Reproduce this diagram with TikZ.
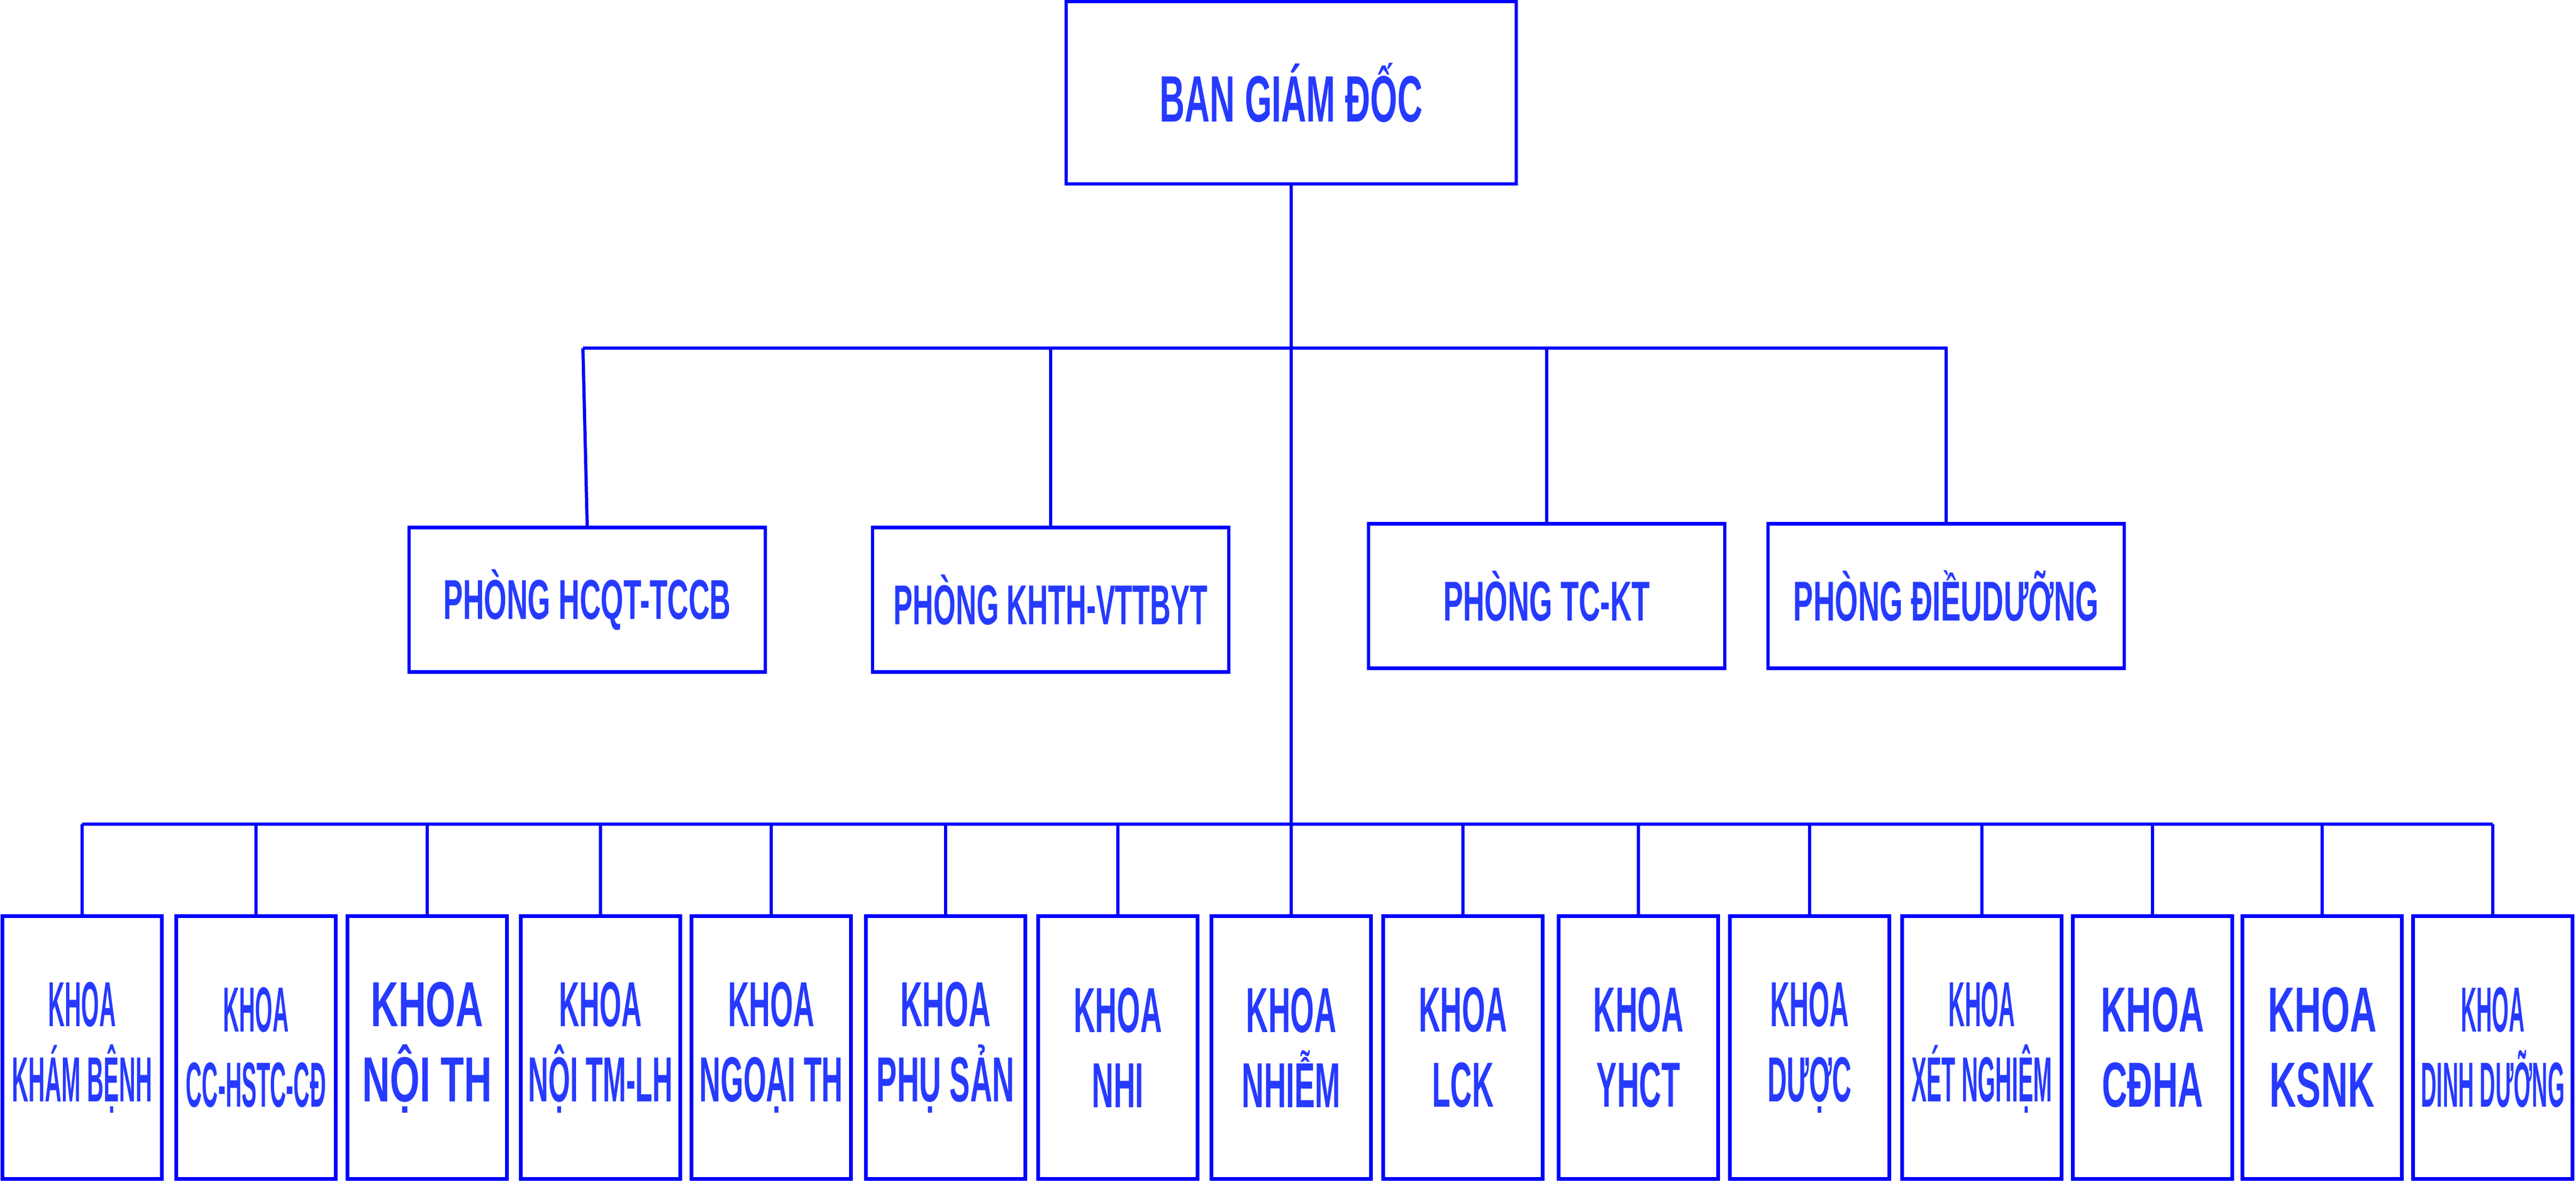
\documentclass[tikz,border=0pt]{standalone}
\usepackage{fontspec}
\setmainfont{Liberation Sans}
\usepackage{graphicx}
\definecolor{linecol}{RGB}{0,0,255}
\definecolor{txtcol}{RGB}{38,58,255}
\newcommand{\sq}[2]{\scalebox{#1}[1]{#2}}
\tikzset{
  box/.style={draw=linecol, line width=1.9pt, fill=white, inner sep=0pt, align=center, text=txtcol},
  phong/.style={box, minimum width=6.68cm, minimum height=2.71cm, font=\fontsize{30}{36}\selectfont\bfseries},
  khoa/.style={box, minimum width=2.99cm, minimum height=4.93cm, font=\fontsize{34}{40}\selectfont\bfseries},
  link/.style={draw=linecol, line width=1.7pt},
}
\begin{document}
\begin{tikzpicture}
    \useasboundingbox (0,0) rectangle (48.3,-22.2);
    \node[box, minimum width=8.44cm, minimum height=3.42cm, font=\fontsize{35}{40}\selectfont\bfseries] (bgd) at (24.21,-1.74) {\sq{0.53}{BAN GIÁM ĐỐC}};
    \coordinate (topbus) at (24.21,-6.53);
    \coordinate (busend) at (10.93,-6.53);
    \coordinate (lowbus) at (24.21,-15.46);
    % phong
    \node[phong] (p1) at (11.01,-11.25) {\sq{0.52}{PHÒNG HCQT-TCCB}};
    \node[phong] (p2) at (19.70,-11.25) {\sq{0.51}{PHÒNG KHTH-VTTBYT}};
    \node[phong] (p3) at (29.00,-11.18) {\sq{0.53}{PHÒNG TC-KT}};
    \node[phong] (p4) at (36.49,-11.18) {\sq{0.53}{PHÒNG ĐIỀUDƯỠNG}};
    \draw[link] (bgd.south) -- (lowbus);
    \draw[link] (busend) -- (topbus -| p4.north) -- (p4.north);
    \draw[link] (busend) -- (p1.north);
    \draw[link] (topbus -| p2.north) -- (p2.north);
    \draw[link] (topbus -| p3.north) -- (p3.north);
    % khoa
    \foreach \i/\x/\s/\ten in {1/1.54/0.36/KHÁM BỆNH, 2/4.80/0.35/CC-HSTC-CĐ, 3/8.01/0.60/NỘI TH,
        4/11.26/0.44/NỘI TM-LH, 5/14.46/0.46/NGOẠI TH, 6/17.73/0.48/PHỤ SẢN, 7/20.96/0.47/NHI,
        8/24.21/0.48/NHIỄM, 9/27.43/0.47/LCK, 10/30.72/0.48/YHCT, 11/33.93/0.42/DƯỢC,
        12/37.16/0.355/XÉT NGHIỆM, 13/40.36/0.55/CĐHA, 14/43.54/0.58/KSNK, 15/46.74/0.34/DINH DƯỠNG}{
        \node[khoa] (k\i) at (\x,-19.65) {\sq{\s}{KHOA}\\\sq{\s}{\ten}};
        \draw[link] (lowbus -| k\i.north) -- (k\i.north);
    }
    \draw[link] (lowbus -| k1.north) -- (lowbus -| k15.north);
\end{tikzpicture}
\end{document}
